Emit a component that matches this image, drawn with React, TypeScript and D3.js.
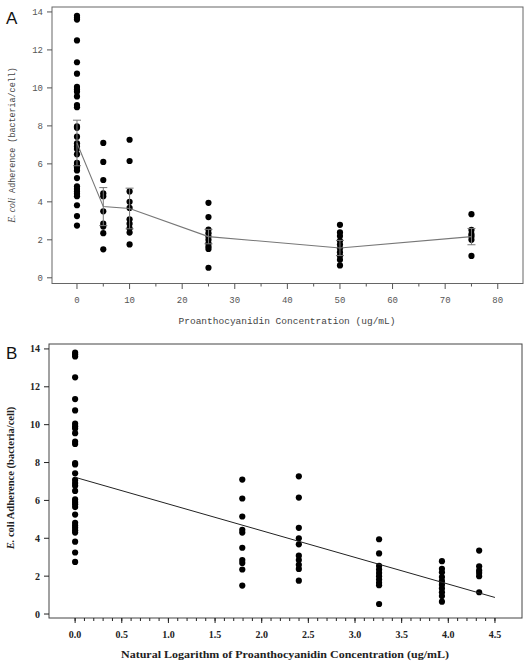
import React from "react";
import * as d3 from "d3";

const concentrations = [0, 5, 10, 25, 50, 75];
const group0 = [13.8, 13.7, 13.6, 12.5, 11.35, 10.75, 10.05, 9.92, 9.8, 9.55, 9.1, 8.98, 7.97, 7.9, 7.43, 7.08, 6.92, 6.78, 6.5, 6.05, 5.92, 5.8, 5.65, 5.25, 4.82, 4.68, 4.55, 4.42, 4.3, 3.82, 3.25, 2.75];
const group5 = [7.1, 6.1, 5.15, 4.45, 4.3, 3.5, 2.85, 2.7, 2.35, 1.5];
const group10 = [7.27, 6.15, 4.55, 4.0, 3.68, 3.08, 2.85, 2.6, 2.38, 1.76];
const group25 = [3.95, 3.2, 2.54, 2.35, 2.17, 2.0, 1.82, 1.65, 1.52, 0.53];
const group50 = [2.79, 2.39, 2.2, 1.95, 1.75, 1.55, 1.35, 1.15, 0.95, 0.65];
const group75 = [3.35, 2.52, 2.3, 2.17, 2.0, 1.15];
const groups = [group0, group5, group10, group25, group50, group75];
const means = [7.1, 3.75, 3.65, 2.17, 1.57, 2.17];
const errors = [1.2, 1.0, 1.07, 0.38, 0.4, 0.43];

const xTicksA = [0, 10, 20, 30, 40, 50, 60, 70, 80];
const xMinorA = [5, 15, 25, 35, 45, 55, 65, 75];
const yTicks = [0, 2, 4, 6, 8, 10, 12, 14];
const xTicksB = [0, 0.5, 1.0, 1.5, 2.0, 2.5, 3.0, 3.5, 4.0, 4.5];
const xMinorB = d3.range(0, 46).map((i) => i / 10);
const regIntercept = 7.22;
const regSlope = -1.41;
const regRange = [0, 4.5];

const fontA = "'Liberation Mono', 'DejaVu Sans Mono', monospace";
const fontB = "'Liberation Serif', 'DejaVu Serif', serif";

export default function App() {
  // Panel A
  const ax = d3.scaleLinear().domain([-4.75, 84.8]).range([52, 523]);
  const ay = d3.scaleLinear().domain([-0.3, 14.26]).range([283.5, 7]);
  // Panel B
  const bx = d3.scaleLinear().domain([-0.28, 4.79]).range([49, 522]);
  const by = d3.scaleLinear().domain([-0.21, 14.26]).range([618, 344]);

  const meanLine = d3
    .line<number>()
    .x((_, i) => ax(concentrations[i]))
    .y((d) => ay(d));

  const colA = "#555";
  const colB = "#222";

  return (
    <svg
      width={531}
      height={668}
      style={{ position: "absolute", left: 0, top: 0, background: "#fff" }}
    >
      <rect x={0} y={0} width={531} height={668} fill="#fff" />
      {/* Panel labels */}
      <text x={6} y={24} fontFamily="'Liberation Sans', Arial, sans-serif" fontSize={17} fill="#111">A</text>
      <text x={6} y={359} fontFamily="'Liberation Sans', Arial, sans-serif" fontSize={17} fill="#111">B</text>

      {/* ===== Panel A ===== */}
      <rect x={52} y={7} width={471} height={276.5} fill="none" stroke="#666" strokeWidth={1} />
      {yTicks.map((t) => (
        <g key={"ay" + t}>
          <line x1={47} x2={52} y1={ay(t)} y2={ay(t)} stroke={colA} />
          <text x={43} y={ay(t) + 3} textAnchor="end" fontFamily={fontA} fontSize={9} fill={colA}>{t}</text>
        </g>
      ))}
      {xTicksA.map((t) => (
        <g key={"ax" + t}>
          <line x1={ax(t)} x2={ax(t)} y1={283.5} y2={289} stroke={colA} />
          <text x={ax(t)} y={303} textAnchor="middle" fontFamily={fontA} fontSize={9} fill={colA}>{t}</text>
        </g>
      ))}
      {xMinorA.map((t) => (
        <line key={"axm" + t} x1={ax(t)} x2={ax(t)} y1={283.5} y2={286.5} stroke={colA} />
      ))}
      <text x={287} y={324} textAnchor="middle" fontFamily={fontA} fontSize={9.5} fill="#444" textLength={217} lengthAdjust="spacingAndGlyphs">
        Proanthocyanidin Concentration (ug/mL)
      </text>
      <text
        transform={`translate(15,${(7 + 283) / 2}) rotate(-90)`}
        textAnchor="middle"
        fontFamily={fontA}
        fontSize={8.4}
        fill="#444"
      >
        <tspan fontStyle="italic" fontFamily="'Liberation Serif', serif" fontSize={9.5}>E. coli</tspan> Adherence (bacteria/cell)
      </text>
      {groups.map((g, gi) =>
        g.map((v, i) => (
          <circle key={`a${gi}-${i}`} cx={ax(concentrations[gi])} cy={ay(v)} r={3.1} fill="#000" />
        ))
      )}
      {means.map((m, i) => (
        <g key={"eb" + i} stroke="#777" strokeWidth={1}>
          <line x1={ax(concentrations[i])} x2={ax(concentrations[i])} y1={ay(m - errors[i])} y2={ay(m + errors[i])} />
          <line x1={ax(concentrations[i]) - 4} x2={ax(concentrations[i]) + 4} y1={ay(m + errors[i])} y2={ay(m + errors[i])} />
          <line x1={ax(concentrations[i]) - 4} x2={ax(concentrations[i]) + 4} y1={ay(m - errors[i])} y2={ay(m - errors[i])} />
        </g>
      ))}
      <path d={meanLine(means) || ""} fill="none" stroke="#777" strokeWidth={1.1} />

      {/* ===== Panel B ===== */}
      <rect x={49} y={344} width={473} height={274} fill="none" stroke="#444" strokeWidth={1} />
      {yTicks.map((t) => (
        <g key={"by" + t}>
          <line x1={44} x2={49} y1={by(t)} y2={by(t)} stroke={colB} />
          <text x={40} y={by(t) + 3.5} textAnchor="end" fontFamily={fontB} fontWeight="bold" fontSize={10} fill={colB}>{t}</text>
        </g>
      ))}
      {xMinorB.map((t) => (
        <line key={"bxm" + t} x1={bx(t)} x2={bx(t)} y1={618} y2={621} stroke={colB} />
      ))}
      {xTicksB.map((t) => (
        <g key={"bx" + t}>
          <line x1={bx(t)} x2={bx(t)} y1={618} y2={623} stroke={colB} />
          <text x={bx(t)} y={638} textAnchor="middle" fontFamily={fontB} fontWeight="bold" fontSize={10} fill={colB}>{t.toFixed(1)}</text>
        </g>
      ))}
      <text x={285} y={658} textAnchor="middle" fontFamily={fontB} fontWeight="bold" fontSize={10.5} fill={colB} textLength={328} lengthAdjust="spacingAndGlyphs">
        Natural Logarithm of Proanthocyanidin Concentration (ug/mL)
      </text>
      <text
        transform={`translate(14,${(344 + 618) / 2 - 3}) rotate(-90)`}
        textAnchor="middle"
        fontFamily={fontB}
        fontWeight="bold"
        fontSize={10.5}
        fill={colB}
      >
        <tspan fontStyle="italic">E.</tspan> coli Adherence (bacteria/cell)
      </text>
      {groups.map((g, gi) =>
        g.map((v, i) => (
          <circle key={`b${gi}-${i}`} cx={bx(Math.log(concentrations[gi] + 1))} cy={by(v)} r={3.1} fill="#000" />
        ))
      )}
      <line
        x1={bx(regRange[0])}
        y1={by(regIntercept + regSlope * regRange[0])}
        x2={bx(regRange[1])}
        y2={by(regIntercept + regSlope * regRange[1])}
        stroke="#222"
        strokeWidth={1}
      />
    </svg>
  );
}
